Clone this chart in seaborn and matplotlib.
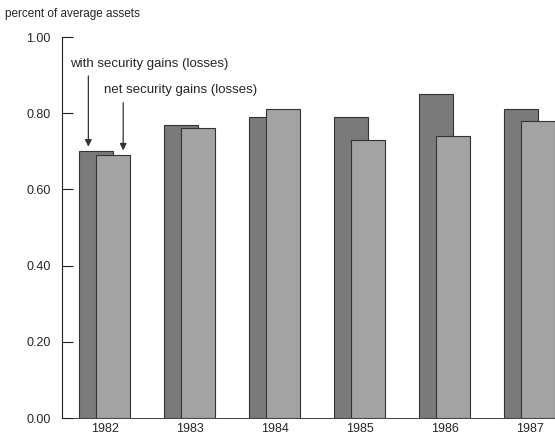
import numpy as np
import pandas as pd
import seaborn as sns
import matplotlib.pyplot as plt

years = [1982, 1983, 1984, 1985, 1986, 1987]
with_gains = [0.70, 0.77, 0.79, 0.79, 0.85, 0.81]
net_gains = [0.69, 0.76, 0.81, 0.73, 0.74, 0.78]

sns.set_style('white')
plt.rcParams['font.family'] = ['Liberation Sans', 'DejaVu Sans']

fig = plt.figure(figsize=(5.55, 4.48), dpi=100)
ax = fig.add_axes([62/555, 30/448, 493/555, 381/448])

x = np.array(years, dtype=float)
w = 0.39
ax.bar(x - 0.10, with_gains, width=w, color='#7a7a7a', edgecolor='#333333', linewidth=0.8)
ax.bar(x + 0.10, net_gains, width=w, color='#a3a3a3', edgecolor='#333333', linewidth=0.8)

ax.set_xlim(1981.5, 1987.3)
ax.set_ylim(0, 1.0)
ax.set_xticks(years)
ax.set_xticklabels([str(y) for y in years], fontsize=9)
ax.set_yticks([0, 0.2, 0.4, 0.6, 0.8, 1.0])
ax.set_yticklabels(['0.00', '0.20', '0.40', '0.60', '0.80', '1.00'], fontsize=9)
ax.tick_params(axis='y', left=True, direction='in', length=8, pad=8, color='#222222')
ax.tick_params(axis='x', length=0)
for s in ['top', 'right']:
    ax.spines[s].set_visible(False)
ax.spines['left'].set_color('#222222')
ax.spines['bottom'].set_color('#222222')
ax.spines['bottom'].set_linewidth(0.6)

fig.text(5/555, 1 - 14/448, 'percent of average assets', fontsize=8.5, va='center')
ax.text(1981.6, 0.93, 'with security gains (losses)', fontsize=9.5, va='center')
ax.text(1982.0, 0.86, 'net security gains (losses)', fontsize=9.5, va='center')
ax.annotate('', xy=(1982 - 0.19, 0.705), xytext=(1982 - 0.19, 0.905),
            arrowprops=dict(arrowstyle='-|>', color='#333333', lw=0.9))
ax.annotate('', xy=(1982 + 0.22, 0.695), xytext=(1982 + 0.22, 0.835),
            arrowprops=dict(arrowstyle='-|>', color='#333333', lw=0.9))

fig.savefig('out.png', dpi=100)
